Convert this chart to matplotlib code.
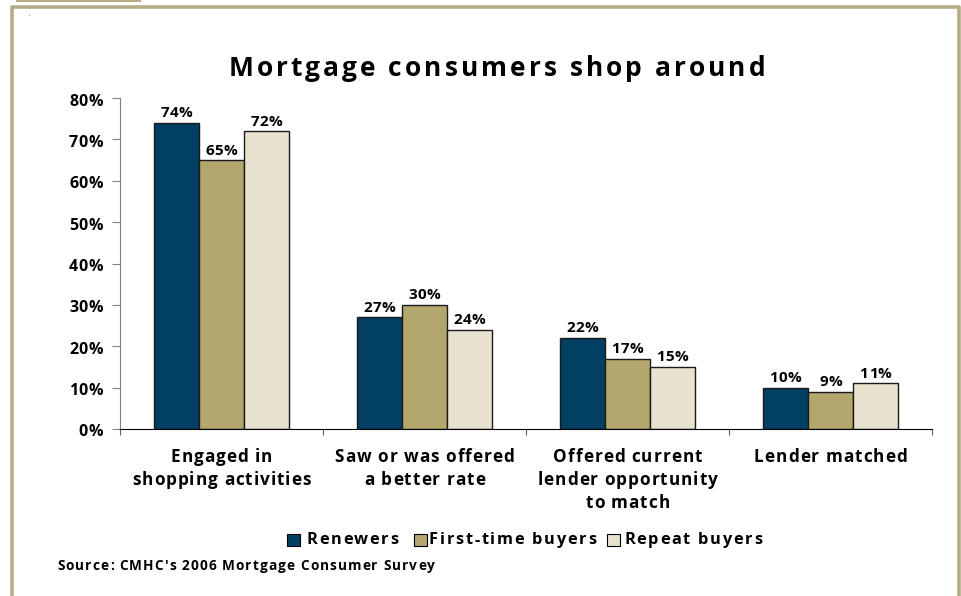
import matplotlib.pyplot as plt
import numpy as np
from matplotlib.patches import Rectangle
from matplotlib.lines import Line2D
from matplotlib.transforms import IdentityTransform
from matplotlib.font_manager import FontProperties, findfont
from matplotlib.ft2font import FT2Font

categories = ["Engaged in\nshopping activities",
              "Saw or was offered\na better rate",
              "Offered current\nlender opportunity\nto match",
              "Lender matched"]
series = ["Renewers", "First-time buyers", "Repeat buyers"]
renewers = [74, 27, 22, 10]
first_time = [65, 30, 17, 9]
repeat = [72, 24, 15, 11]
yticks = [0, 10, 20, 30, 40, 50, 60, 70, 80]

colors = ["#013F63", "#B4A76E", "#E8E2D0"]
frame_col = "#B5AC86"
FONT = "Open Sans"
W, H = 961, 596

fig = plt.figure(figsize=(W / 100, H / 100), dpi=100)
ident = IdentityTransform()


def advances(s, size):
    prop = FontProperties(family=FONT, weight="bold", size=size)
    ft = FT2Font(findfont(prop))
    ft.set_size(size, fig.dpi)
    return prop, [ft.load_char(ord(c)).linearHoriAdvance / 65536 for c in s]


def fit_track(s, size, width):
    """Letter spacing that makes s about `width` pixels wide."""
    _, adv = advances(s, size)
    return (width - sum(adv)) / (len(s) - 1)


def spaced(x, y, s, size, track, ha="center"):
    """Bold text with letter spacing; x, y in pixels, y is the baseline."""
    prop, adv = advances(s, size)
    total = sum(adv) + track * (len(s) - 1)
    x0 = x - {"left": 0, "center": total / 2, "right": total}[ha]
    for c, a in zip(s, adv):
        if c != " ":
            fig.text(x0, y, c, fontproperties=prop, transform=ident,
                     ha="left", va="baseline")
        x0 += a + track


# outer frame with tab in the corner
fig.add_artist(Line2D([11.5 / W, 11.5 / W, 958.5 / W, 958.5 / W],
                      [0, 1 - 7 / H, 1 - 7 / H, 0],
                      color=frame_col, lw=2.6, transform=fig.transFigure))
fig.add_artist(Rectangle((16 / W, 1 - 2 / H), 125 / W, 2 / H,
                         color=frame_col, transform=fig.transFigure, lw=0))

ax = fig.add_axes([120 / W, 167 / H, 812 / W, 331 / H])

x = np.arange(len(categories))
w = 0.222
ax.set_xlim(-0.5, len(categories) - 0.5)
ax.set_ylim(0, 80)

val_size = 11
val_track = fit_track("74%", val_size, 32)
for i, vals in enumerate([renewers, first_time, repeat]):
    bars = ax.bar(x + (i - 1) * w, vals, w, color=colors[i],
                  edgecolor="#1a1a1a", linewidth=1, label=series[i])
    for b, v in zip(bars, vals):
        px, py = ax.transData.transform((b.get_x() + b.get_width() / 2, v))
        spaced(px, py + 5.5, f"{v}%", val_size, val_track)

ax.set_yticks(yticks)
ax.set_yticklabels([])
ax.tick_params(axis="y", length=6, color="#808080")
tick_size = 11.5
tick_track = fit_track("80%", tick_size, 34)
for t in yticks:
    px, py = ax.transData.transform((-0.5, t))
    spaced(px - 17, py - 7.5, f"{t}%", tick_size, tick_track, ha="right")

# category boundaries as ticks, labels at group centres
ax.set_xticks(np.arange(len(categories) + 1) - 0.5)
ax.set_xticklabels([])
ax.tick_params(axis="x", direction="out", length=4, color="#606060")
cat_size = 12.3
cat_track = fit_track("shopping activities", cat_size, 179)
for xi, c in zip(x, categories):
    px, py = ax.transData.transform((xi, 0))
    for k, line in enumerate(c.split("\n")):
        spaced(px, py - 32.7 - 23.3 * k, line, cat_size, cat_track)

for s in ["top", "right"]:
    ax.spines[s].set_visible(False)
ax.spines["left"].set_color("#808080")
ax.spines["bottom"].set_color("black")

title = "Mortgage consumers shop around"
spaced(497, H - 76, title, 19, fit_track(title, 19, 537))

# legend row: swatch left edge, text left edge, text width
leg_sq = [287, 414, 607]
leg_tx = [307, 429, 624]
leg_w = [91, 167, 138]
leg_size = 11.8
for sx, tx, tw, col, name in zip(leg_sq, leg_tx, leg_w, colors, series):
    fig.add_artist(Rectangle((sx / W, (H - 545.5) / H), 13 / W, 12 / H,
                             facecolor=col, edgecolor="black", lw=0.8,
                             transform=fig.transFigure))
    spaced(tx, H - 544.5, name, leg_size, fit_track(name, leg_size, tw),
           ha="left")

source = "Source: CMHC's 2006 Mortgage Consumer Survey"
spaced(57, H - 570, source, 9.8, fit_track(source, 9.8, 378), ha="left")
fig.text(29 / W, 1 - 16 / H, ".", fontsize=4, family=FONT)

fig.savefig("out.png", dpi=100)
